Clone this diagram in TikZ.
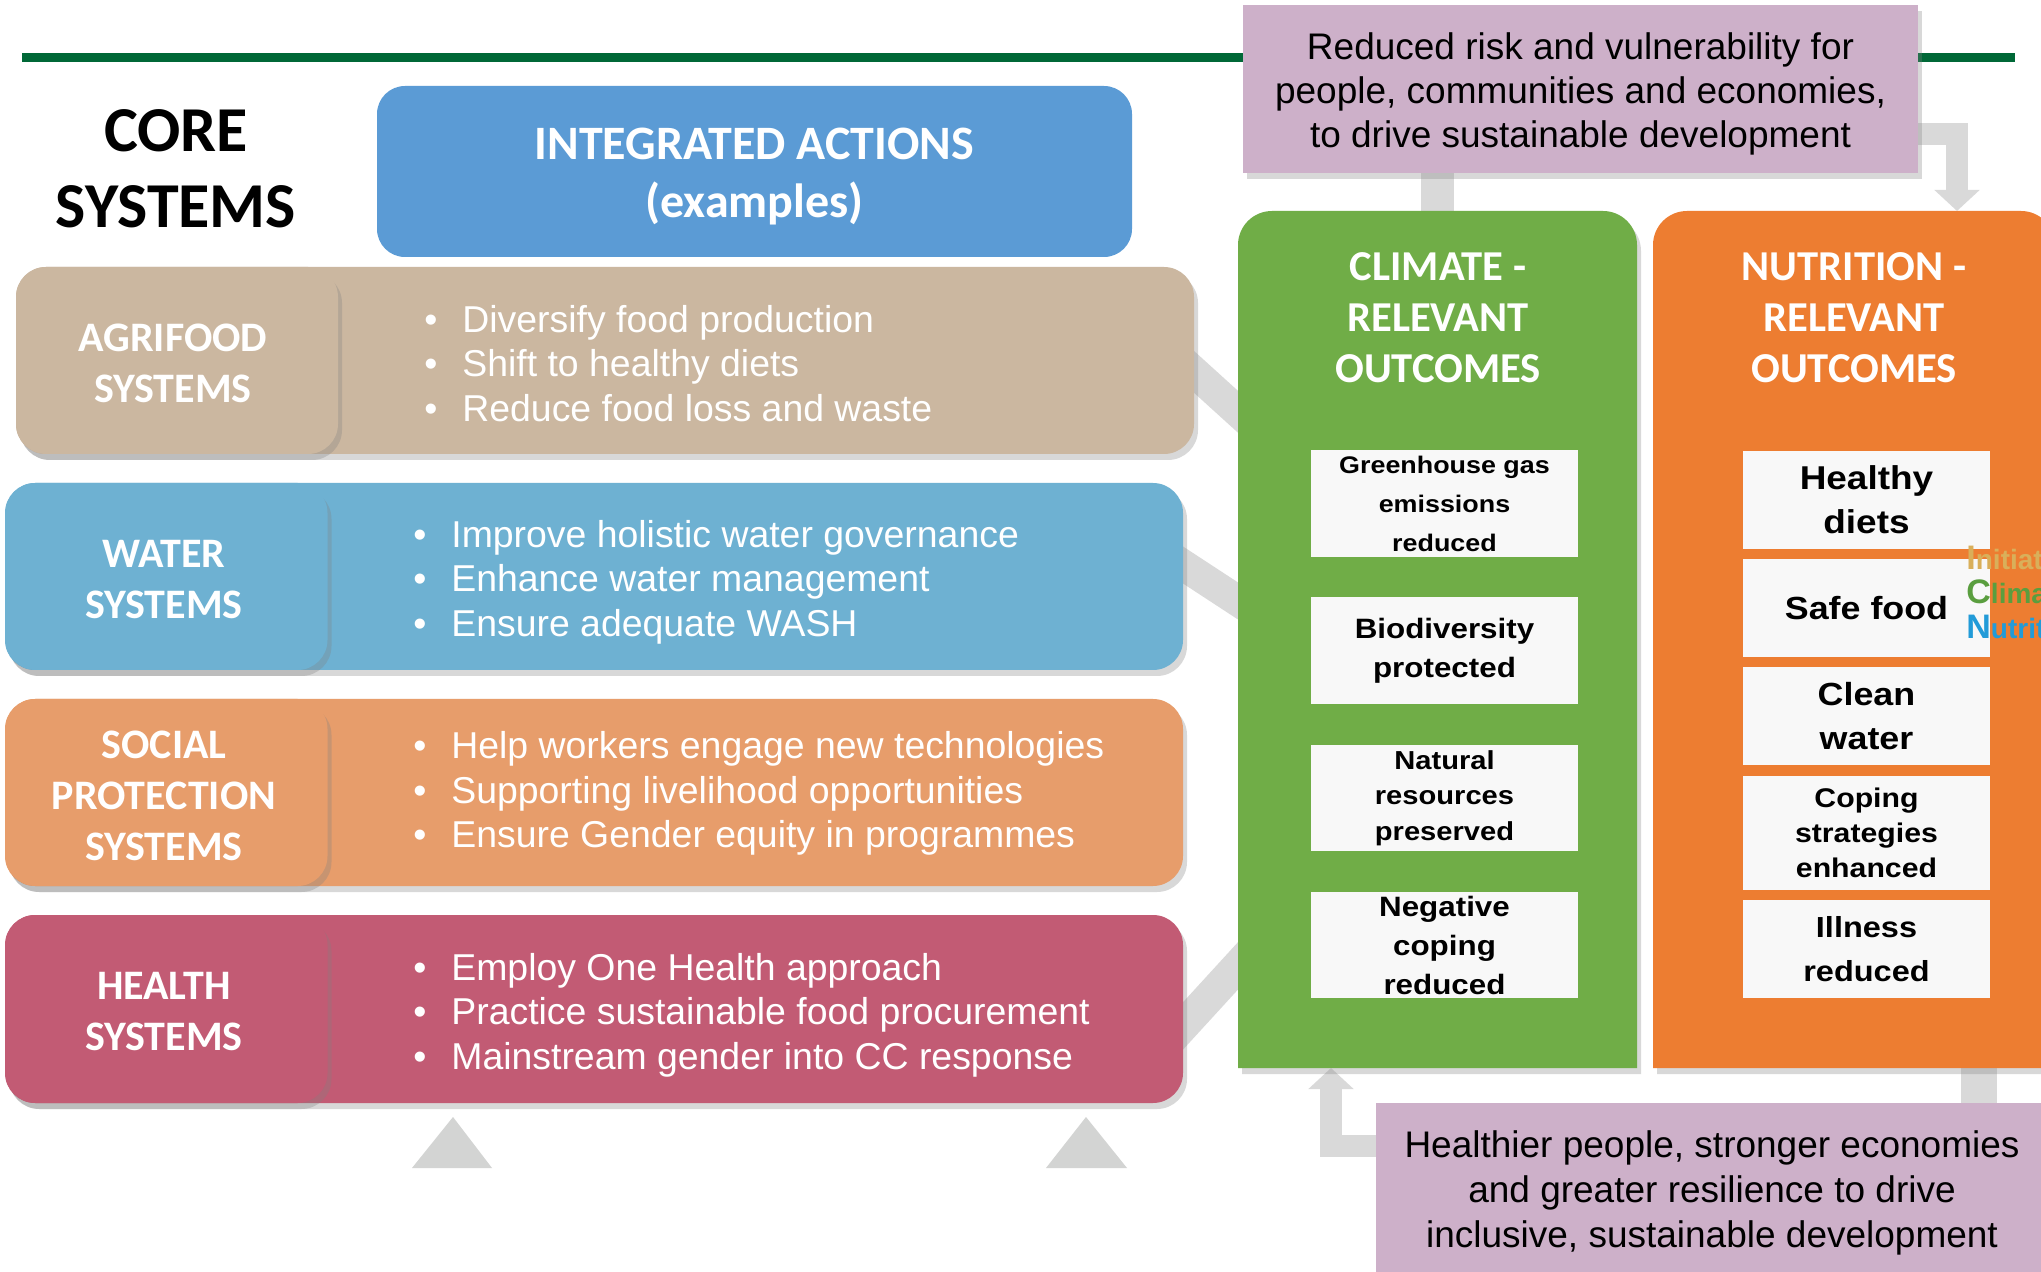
\documentclass[tikz,border=0pt]{standalone}
\usepackage{fontspec}
\setmainfont{Liberation Sans}
\newfontfamily\calfam{Carlito}
\newfontfamily\widefam[FakeStretch=1.12]{Liberation Sans}
\usetikzlibrary{shadows,arrows.meta,calc}
\definecolor{rulegreen}{HTML}{006837}
\definecolor{iablue}{HTML}{5B9BD5}
\definecolor{agritan}{HTML}{CBB7A0}
\definecolor{waterblue}{HTML}{6EB1D2}
\definecolor{socialor}{HTML}{E79D6B}
\definecolor{healthred}{HTML}{C25B74}
\definecolor{lilac}{HTML}{CDB0C9}
\definecolor{climgreen}{HTML}{70AD47}
\definecolor{nutorange}{HTML}{ED7D31}
\definecolor{outwhite}{HTML}{F8F8F8}
\definecolor{bandgrey}{HTML}{D9D9D9}
\definecolor{trigrey}{HTML}{D3D4D3}
\definecolor{inigold}{HTML}{D9AF5A}
\definecolor{inigreen}{HTML}{5A9E3F}
\definecolor{iniblue}{HTML}{229BD8}
\pgfdeclarelayer{bg}
\pgfdeclarelayer{canvas}
\pgfsetlayers{canvas,bg,main}
\newcommand\bulline[1]{\makebox[19pt][l]{\textbullet}#1}
\newcommand\ofont[2]{\widefam\bfseries\fontsize{#1}{#2}\selectfont}
\begin{document}
\begin{tikzpicture}[x=0.5pt,y=-0.5pt,
  box/.style={inner sep=0pt, outer sep=0pt, align=center},
  shad/.style={drop shadow={shadow xshift=2pt, shadow yshift=-3pt, opacity=0.3}},
  rowbox/.style={box, rounded corners=15pt, minimum height=93.5pt, minimum width=589pt, shad},
  labelbox/.style={box, rounded corners=15pt, minimum height=93.5pt, minimum width=161pt, shad},
  labeltext/.style={box, text=white, font=\calfam\bfseries\fontsize{21}{25.5}\selectfont},
  bultext/.style={inner sep=0pt, anchor=west, align=left, text=white,
    font=\fontsize{18.7}{22.2}\selectfont},
  lilacbox/.style={box, fill=lilac, shad},
  lilactext/.style={box, text=black, font=\fontsize{18.5}{22}\selectfont},
  header/.style={box, text=white, font=\calfam\bfseries\fontsize{21.3}{25.5}\selectfont},
  obox/.style={box, fill=outwhite, text=black},
  band/.style={draw=bandgrey},
  bandarrow/.style={draw=bandgrey, line width=11pt,
    -{Triangle[length=10.5pt 0 0, width=22pt 0 0]}}
]
\useasboundingbox (0,0) rectangle (2041,1272);
\begin{pgfonlayer}{canvas}
\fill[white] (0,0) rectangle (2041,1272);
\end{pgfonlayer}

% green rule
\draw[rulegreen, line width=4.5pt] (22,57.5) -- (2015,57.5);

% title blocks
\node[box, text=black, font=\calfam\bfseries\fontsize{32}{38}\selectfont] (core) at (176,169) {CORE\\SYSTEMS};
\node[box, fill=iablue, rounded corners=14pt, minimum width=377.5pt, minimum height=85.5pt] (ia) at (754.5,171.5) {};
\node[box, text=white, font=\calfam\bfseries\fontsize{24}{29}\selectfont] (iatext) at (754.5,176.5)
  {INTEGRATED ACTIONS\\(examples)};

% rows
\node[rowbox, fill=agritan] (agri) at (605,360.5) {};
\node[labelbox, fill=agritan] (agril) at (177,360.5) {};
\node[labeltext] (agrit) at (173,363.5) {AGRIFOOD\\SYSTEMS};
\node[bultext] (agrib) at (424,363.5) {\bulline{Diversify food production}\\\bulline{Shift to healthy diets}\\\bulline{Reduce food loss and waste}};

\node[rowbox, fill=waterblue] (water) at (594,576.5) {};
\node[labelbox, fill=waterblue] (waterl) at (166.5,576.5) {};
\node[labeltext] (watert) at (164,579.5) {WATER\\SYSTEMS};
\node[bultext] (waterb) at (413,582) {\bulline{Improve holistic water governance}\\\bulline{Enhance water management}\\\bulline{Ensure adequate WASH}};

\node[rowbox, fill=socialor] (social) at (594,792.5) {};
\node[labelbox, fill=socialor] (sociall) at (166.5,792.5) {};
\node[labeltext] (socialt) at (164,795.5) {SOCIAL\\PROTECTION\\SYSTEMS};
\node[bultext] (socialb) at (413,793.5) {\bulline{Help workers engage new technologies}\\\bulline{Supporting livelihood opportunities}\\\bulline{Ensure Gender equity in programmes}};

\node[rowbox, fill=healthred, minimum height=94pt] (health) at (594,1009) {};
\node[labelbox, fill=healthred, minimum height=94pt] (healthl) at (166.5,1009) {};
\node[labeltext] (healtht) at (164,1012) {HEALTH\\SYSTEMS};
\node[bultext] (healthb) at (413,1015) {\bulline{Employ One Health approach}\\\bulline{Practice sustainable food procurement}\\\bulline{Mainstream gender into CC response}};

% triangles
\fill[trigrey] (453,1117) -- (492,1168) -- (412,1168) -- cycle;
\fill[trigrey] (1086,1117) -- (1127,1168) -- (1046,1168) -- cycle;

% top outcome box
\node[lilacbox, minimum width=337.5pt, minimum height=84pt] (tp) at (1580.5,89) {};
\node[lilactext] (tptext) at (1580.5,94)
  {Reduced risk and vulnerability for\\people, communities and economies,\\to drive sustainable development};

% columns
\node[box, minimum width=199.5pt, minimum height=428.5pt] (gcol) at (1437.5,639.5) {};
\fill[climgreen, shad] (gcol.south west) -- ([yshift=-40pt]gcol.north west) [rounded corners=17pt]
  -- (gcol.north west) -- (gcol.north east) -- ([yshift=-40pt]gcol.north east) [sharp corners]
  -- (gcol.south east) -- cycle;
\node[header] (gtitle) at (1438,317.5) {CLIMATE -\\RELEVANT\\OUTCOMES};

\node[box, minimum width=201pt, minimum height=428.5pt] (ocol) at (1854,639.5) {};
\fill[nutorange, shad] (ocol.south west) -- ([yshift=-40pt]ocol.north west) [rounded corners=17pt]
  -- (ocol.north west) -- (ocol.north east) -- ([yshift=-40pt]ocol.north east) [sharp corners]
  -- (ocol.south east) -- cycle;
\node[header] (otitle) at (1854,317.5) {NUTRITION -\\RELEVANT\\OUTCOMES};

% climate outcomes
\node[obox, minimum width=133.5pt, minimum height=53.5pt, font=\ofont{12}{19.5}] (g1) at (1444.5,503.5) {Greenhouse gas\\emissions\\reduced};
\node[obox, minimum width=133.5pt, minimum height=53.5pt, font=\ofont{14}{19.5}] (g2) at (1444.5,650.5) {Biodiversity\\protected};
\node[obox, minimum width=133.5pt, minimum height=53pt, font=\ofont{13}{17.8}] (g3) at (1444.5,798) {Natural\\resources\\preserved};
\node[obox, minimum width=133.5pt, minimum height=53pt, font=\ofont{14}{19.5}] (g4) at (1444.5,945) {Negative\\coping\\reduced};

% nutrition outcomes
\node[obox, minimum width=123.5pt, minimum height=49pt, font=\ofont{16.5}{22}] (o1) at (1866.5,500) {Healthy\\diets};
\node[obox, minimum width=123.5pt, minimum height=49pt, font=\ofont{16}{22}] (o2) at (1866.5,608) {Safe food};
\node[obox, minimum width=123.5pt, minimum height=49pt, font=\ofont{16}{22}] (o3) at (1866.5,716) {Clean\\water};
\node[obox, minimum width=123.5pt, minimum height=57pt, font=\ofont{13.5}{17.5}] (o4) at (1866.5,833) {Coping\\strategies\\enhanced};
\node[obox, minimum width=123.5pt, minimum height=49pt, font=\ofont{14.5}{22}] (o5) at (1866.5,949) {Illness\\reduced};

% initiative letters
\node[inner sep=0pt, anchor=west, font=\bfseries] (ini1) at (1966,558) {\textcolor{inigold}{\fontsize{17}{17}\selectfont I\fontsize{14}{14}\selectfont nitiat}};
\node[inner sep=0pt, anchor=west, font=\bfseries] (ini2) at (1966,592) {\textcolor{inigreen}{\fontsize{17}{17}\selectfont C\fontsize{14}{14}\selectfont lima}};
\node[inner sep=0pt, anchor=west, font=\bfseries] (ini3) at (1966,627) {\textcolor{iniblue}{\fontsize{17}{17}\selectfont N\fontsize{14}{14}\selectfont utrit}};

% bottom outcome box
\node[lilacbox, minimum width=336pt, minimum height=86pt] (bp) at (1712,1189) {};
\node[lilactext, font=\fontsize{18.5}{22.5}\selectfont] (bptext) at (1712,1193)
  {Healthier people, stronger economies\\and greater resilience to drive\\inclusive, sustainable development};

% connectors (behind)
\coordinate (tpcorner) at (1957,134);
\coordinate (bcorner) at (1331,1146);
\coordinate (obx) at (1979,0);
\begin{pgfonlayer}{bg}
\draw[band, line width=16.5pt] ([yshift=10pt]tp.south -| gcol.north) -- ([yshift=-10pt]gcol.north);
\draw[bandarrow] ([xshift=-10pt]tp.east |- tpcorner) -- (tpcorner) -- (tpcorner |- ocol.north);
\draw[bandarrow] ([xshift=10pt]bp.west |- bcorner) -- (bcorner) -- (bcorner |- gcol.south);
\draw[band, line width=18pt] ([yshift=10pt]ocol.south -| obx) -- ([yshift=-10pt]bp.north -| obx);
\draw[band, line width=15.5pt] ([shift={(-34,-19.5)}]agri.east) -- ([shift={(52,-180.5)}]gcol.west);
\draw[band, line width=15.5pt] ([shift={(-33,-33.1)}]water.east) -- ([shift={(52,-4.5)}]gcol.west);
\draw[band, line width=16pt] ([shift={(-33,53)}]health.east) -- ([shift={(52,269.5)}]gcol.west);
\end{pgfonlayer}
\end{tikzpicture}
\end{document}
